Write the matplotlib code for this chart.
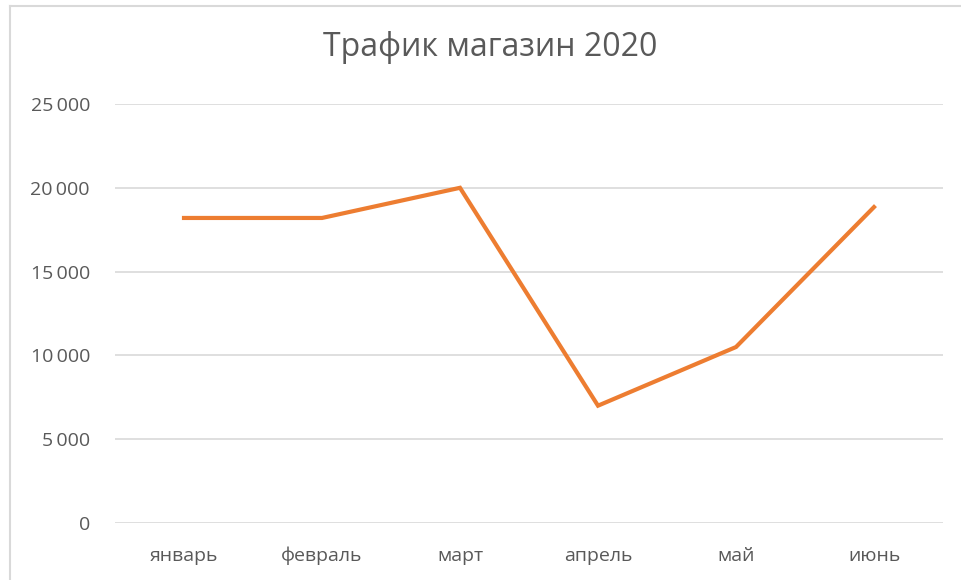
import matplotlib
matplotlib.use("Agg")
import matplotlib.pyplot as plt
from matplotlib.lines import Line2D
from matplotlib.ticker import FuncFormatter

months = ["январь", "февраль", "март", "апрель", "май", "июнь"]
traffic = [18200, 18200, 20000, 7000, 10500, 18850]
yticks = [0, 5000, 10000, 15000, 20000, 25000]
title = "Трафик магазин 2020"

plt.rcParams['font.family'] = ['Open Sans', 'DejaVu Sans']

W, H = 961, 580
fig = plt.figure(figsize=(W / 100, H / 100), dpi=100)
fig.patch.set_facecolor("white")

# chart area border (light gray), cut at right/bottom
fig.add_artist(Line2D([9.5 / W, 9.5 / W], [0, 1 - 6 / H], transform=fig.transFigure,
                      color="#d9d9d9", lw=1.5))
fig.add_artist(Line2D([9.5 / W, 1], [1 - 6 / H, 1 - 6 / H], transform=fig.transFigure,
                      color="#d9d9d9", lw=1.5))

left, right = 115 / W, 943 / W
bottom, top = 1 - 523 / H, 1 - 104 / H
ax = fig.add_axes([left, bottom, right - left, top - bottom])

x = list(range(len(months)))
ax.plot(x, traffic, color="#ED7D31", lw=3.0, solid_joinstyle="miter", zorder=3)

ax.set_xlim(-0.5, len(months) - 0.5)
ax.set_ylim(0, 25000)
ax.set_yticks(yticks)
ax.yaxis.set_major_formatter(FuncFormatter(lambda v, p: f"{int(v):,}".replace(",", "\u2009")))
ax.set_xticks(x)
ax.set_xticklabels(months)

ax.grid(axis="y", color="#d9d9d9", lw=1.2)
ax.set_axisbelow(True)
for s in ax.spines.values():
    s.set_visible(False)
ax.tick_params(axis="both", length=0, labelsize=14, colors="#595959")
ax.tick_params(axis="y", pad=18)
ax.tick_params(axis="x", pad=17)

fig.text(490 / W, 1 - 48 / H, title, ha="center", va="center", fontsize=23, color="#595959")

fig.savefig("out.png", dpi=100, facecolor="white")
